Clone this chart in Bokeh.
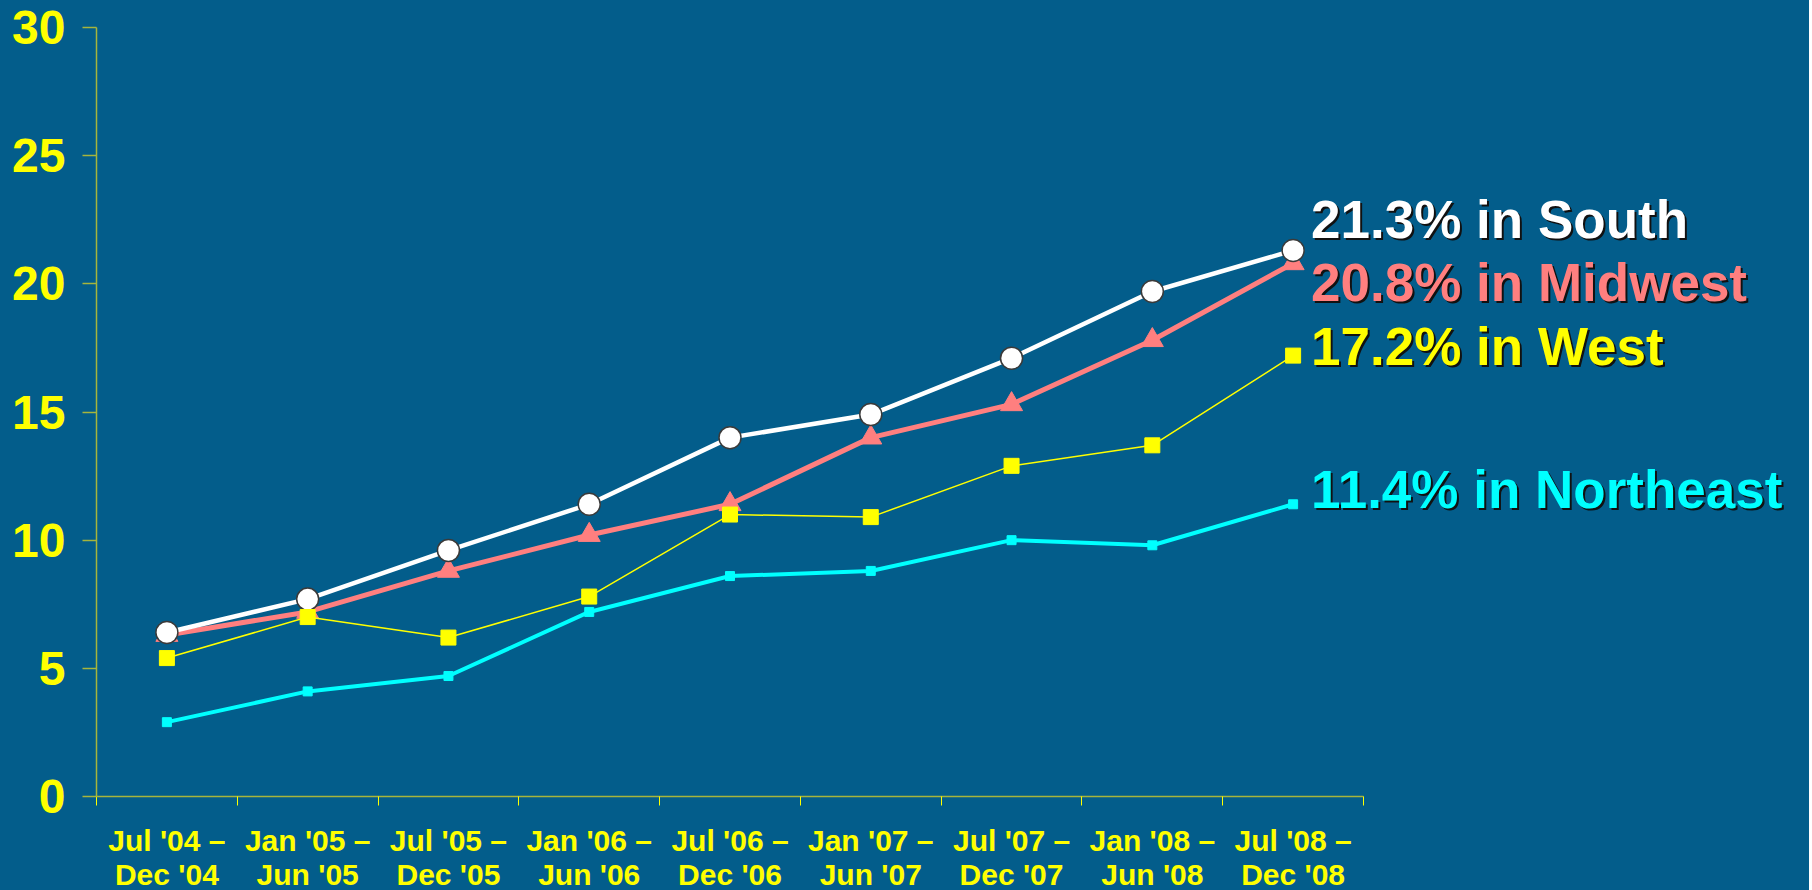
from bokeh.plotting import figure
from bokeh.models import Range1d, FixedTicker, ColumnDataSource, LabelSet
from bokeh.core.properties import value
from bokeh.embed import file_html
from bokeh.resources import INLINE

periods = ["Jul '04 –\nDec '04", "Jan '05 –\nJun '05", "Jul '05 –\nDec '05",
           "Jan '06 –\nJun '06", "Jul '06 –\nDec '06", "Jan '07 –\nJun '07",
           "Jul '07 –\nDec '07", "Jan '08 –\nJun '08", "Jul '08 –\nDec '08"]
south = [6.4, 7.7, 9.6, 11.4, 14.0, 14.9, 17.1, 19.7, 21.3]
midwest = [6.3, 7.2, 8.8, 10.2, 11.4, 14.0, 15.3, 17.8, 20.8]
west = [5.4, 7.0, 6.2, 7.8, 11.0, 10.9, 12.9, 13.7, 17.2]
northeast = [2.9, 4.1, 4.7, 7.2, 8.6, 8.8, 10.0, 9.8, 11.4]
end_labels = ["21.3% in South", "20.8% in Midwest", "17.2% in West", "11.4% in Northeast"]
y_ticks = [0, 5, 10, 15, 20, 25, 30]

BG = "#035D8B"
AXIS = "#a6b53c"
YELLOW = "#FFFF00"
SALMON = "#FF7F7F"
CYAN = "#00FFFF"
FONT = "Liberation Sans"

n = len(periods)
xs = [i + 0.5 for i in range(n)]

AXIS_PX = 1267          # pixel length of the drawn category axis
FRAME_W = 1713          # frame extends to the right to hold the end labels
x_end = FRAME_W * n / AXIS_PX

p = figure(frame_width=FRAME_W, frame_height=769, output_backend="svg", toolbar_location=None,
           x_range=Range1d(0, x_end), y_range=Range1d(0, 30),
           min_border_left=96, min_border_top=27, min_border_right=0, min_border_bottom=85)
p.background_fill_color = None
p.border_fill_color = None
p.styles = {"background-color": BG}
p.outline_line_color = None
p.grid.visible = False

# y axis
ya = p.yaxis[0]
ya.ticker = FixedTicker(ticks=y_ticks, minor_ticks=[])
ya.axis_line_color = AXIS
ya.axis_line_width = 1.5
ya.major_tick_line_color = AXIS
ya.major_tick_line_width = 1.5
ya.major_tick_out = 14
ya.major_tick_in = 0
ya.minor_tick_line_color = None
ya.major_label_text_color = YELLOW
ya.major_label_text_font = FONT
ya.major_label_text_font_style = "bold"
ya.major_label_text_font_size = "48px"
ya.major_label_standoff = 17

# x axis
xa = p.xaxis[0]
xa.bounds = (0, n)
xa.ticker = FixedTicker(ticks=xs, minor_ticks=list(range(n + 1)))
xa.major_label_overrides = {x: lab for x, lab in zip(xs, periods)}
xa.axis_line_color = AXIS
xa.axis_line_width = 1.5
xa.major_tick_line_color = None
xa.major_tick_out = 9
xa.major_tick_in = 0
xa.minor_tick_line_color = YELLOW
xa.minor_tick_out = 9
xa.minor_tick_in = 0
xa.major_label_text_color = YELLOW
xa.major_label_text_font = FONT
xa.major_label_text_font_style = "bold"
xa.major_label_text_font_size = "30px"
xa.major_label_text_line_height = 1.04
xa.major_label_standoff = 18

# series
p.line(xs, northeast, line_color=CYAN, line_width=4)
p.scatter(xs, northeast, marker="square", size=9, fill_color=CYAN, line_color=CYAN)

p.line(xs, midwest, line_color=SALMON, line_width=5)
p.scatter(xs, midwest, marker="triangle", size=22, fill_color=SALMON, line_color=SALMON)

p.line(xs, south, line_color="white", line_width=4.5)
p.scatter(xs, south, marker="circle", size=22, fill_color="white", line_color="#3a3a3a", line_width=1.5)

p.line(xs, west, line_color=YELLOW, line_width=1.5)
p.scatter(xs, west, marker="square", size=15, fill_color=YELLOW, line_color=YELLOW)

# end labels
ys_end = [south[-1], midwest[-1], west[-1], northeast[-1]]
src = ColumnDataSource(dict(
    x=[xs[-1]] * 4, y=ys_end, text=end_labels,
    color=["white", SALMON, YELLOW, CYAN],
    yoff=[31, -19, 9, 15],
))
shadow_src = ColumnDataSource(dict(
    x=[xs[-1]] * 4, y=ys_end, text=end_labels,
    yoff=[29, -21, 7, 13],
))
common = dict(x="x", y="y", text="text", text_font=value(FONT), text_font_style="bold",
              text_font_size="53px", text_baseline="middle", text_align="left")
p.add_layout(LabelSet(source=shadow_src, x_offset=20, y_offset="yoff", text_color="#111111", **common))
p.add_layout(LabelSet(source=src, x_offset=18, y_offset="yoff", text_color="color", **common))

open("out.html", "w").write(file_html(p, INLINE))
